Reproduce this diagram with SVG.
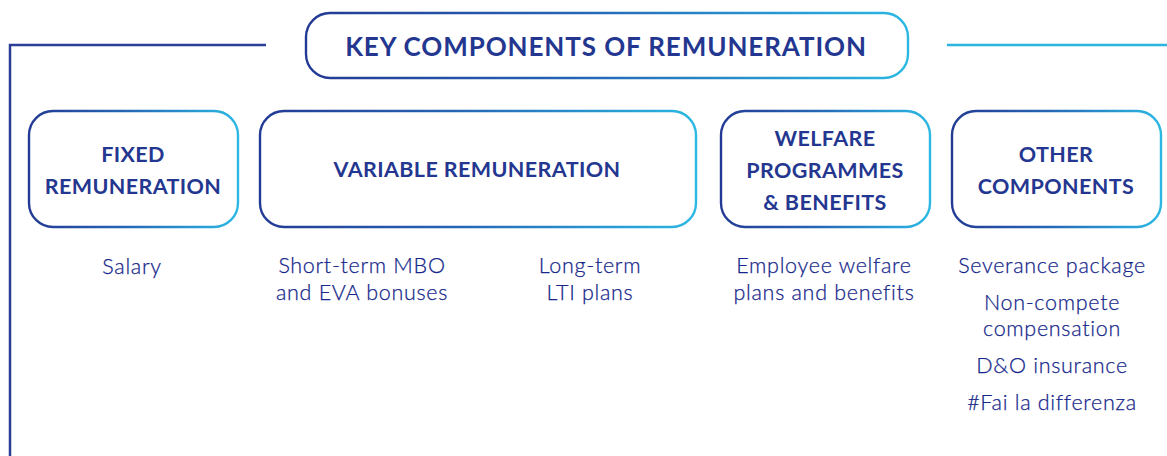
<svg xmlns="http://www.w3.org/2000/svg" width="1167" height="456" viewBox="0 0 1167 456">
  <defs>
    <linearGradient id="g" x1="0" y1="0" x2="1" y2="0">
      <stop offset="0" stop-color="#233a94"/>
      <stop offset="0.45" stop-color="#2565b4"/>
      <stop offset="1" stop-color="#2bb8e3"/>
    </linearGradient>
    <style>
      .box { fill: #ffffff; stroke: url(#g); stroke-width: 2.4; }
      .head { font-family: Lato, "Liberation Sans", sans-serif; font-weight: 700; font-size: 21.5px; letter-spacing: 0.4px; fill: #243790; text-anchor: middle; }
      .title { font-size: 26px; letter-spacing: 0.9px; }
      .body { font-family: Lato, "Liberation Sans", sans-serif; font-weight: 300; font-size: 21.5px; letter-spacing: 0.7px; fill: #15278a; stroke: #15278a; stroke-width: 0.25px; text-anchor: middle; }
      .navy { stroke: #2a3d97; stroke-width: 2.5; fill: none; }
      .cyan { stroke: #2bb4df; stroke-width: 2.5; fill: none; }
    </style>
  </defs>
  <rect width="1167" height="456" fill="#ffffff"/>
  <g id="connectors">
    <polyline class="navy" points="266,45 10,45 10,456"/>
    <line class="cyan" x1="947" y1="45" x2="1167" y2="45"/>
  </g>
  <g id="title">
    <rect class="box" x="306" y="13" width="602" height="65" rx="24"/>
    <text class="head title" x="606" y="56">KEY COMPONENTS OF REMUNERATION</text>
  </g>
  <g id="fixed">
    <rect class="box" x="29" y="111" width="209" height="116" rx="24"/>
    <text class="head" x="133" y="162">FIXED</text>
    <text class="head" x="133" y="194">REMUNERATION</text>
    <text class="body" x="132" y="274">Salary</text>
  </g>
  <g id="variable">
    <rect class="box" x="260" y="111" width="436" height="116" rx="24"/>
    <text class="head" x="477" y="177">VARIABLE REMUNERATION</text>
    <text class="body" x="362" y="273">Short-term MBO</text>
    <text class="body" x="362" y="300">and EVA bonuses</text>
    <text class="body" x="590" y="273">Long-term</text>
    <text class="body" x="590" y="300">LTI plans</text>
  </g>
  <g id="welfare">
    <rect class="box" x="721" y="111" width="209" height="116" rx="24"/>
    <text class="head" x="825" y="146">WELFARE</text>
    <text class="head" x="825" y="178">PROGRAMMES</text>
    <text class="head" x="825" y="210">&amp; BENEFITS</text>
    <text class="body" x="824" y="273">Employee welfare</text>
    <text class="body" x="824" y="300">plans and benefits</text>
  </g>
  <g id="other">
    <rect class="box" x="952" y="111" width="209" height="116" rx="24"/>
    <text class="head" x="1056" y="162">OTHER</text>
    <text class="head" x="1056" y="194">COMPONENTS</text>
    <text class="body" x="1052" y="273">Severance package</text>
    <text class="body" x="1052" y="310">Non-compete</text>
    <text class="body" x="1052" y="336">compensation</text>
    <text class="body" x="1052" y="373">D&amp;O insurance</text>
    <text class="body" x="1052" y="410">#Fai la differenza</text>
  </g>
</svg>
